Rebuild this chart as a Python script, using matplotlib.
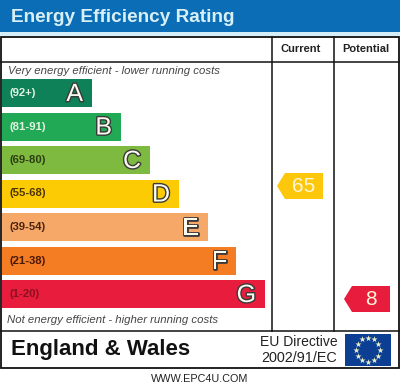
import numpy as np
import matplotlib
matplotlib.use('Agg')
import matplotlib.pyplot as plt
import matplotlib.patheffects as pe
from matplotlib.patches import Polygon, Rectangle

plt.rcParams['font.family'] = ['Liberation Sans', 'DejaVu Sans']

bands = ['(92+)', '(81-91)', '(69-80)', '(55-68)', '(39-54)', '(21-38)', '(1-20)']
letters = ['A', 'B', 'C', 'D', 'E', 'F', 'G']
band_colors = ['#0e8159', '#22a955', '#7fba40', '#fdcb04', '#f6a868', '#f47c22', '#e81c3c']
label_colors = ['#e4f4e4', '#e4f4e4', '#2c3c14', '#4a3408', '#4a2410', '#4a1808', '#8a1020']
band_lengths = [90, 119, 148, 177, 206, 234, 263]

current_score = '65'
potential_score = '8'

fig = plt.figure(figsize=(4, 3.88), dpi=100)
ax = fig.add_axes([0, 0, 1, 1])
ax.set_xlim(0, 400)
ax.set_ylim(388, 0)
ax.axis('off')

# title strip
ax.add_patch(Rectangle((0, 0), 400, 32, color='#0a6db5', lw=0))
ax.add_patch(Rectangle((0, 32), 400, 4, color='#d5eef7', lw=0))
ax.text(11, 17, 'Energy Efficiency Rating', color='#d8f0f5', fontsize=13.7, fontweight='bold', va='center')

# frame
ax.add_patch(Rectangle((1, 37), 398, 331, fill=False, ec='#111111', lw=1.3))
ax.plot([1, 399], [62, 62], color='#111111', lw=1.1)
ax.plot([1, 399], [331, 331], color='#111111', lw=1.1)
ax.plot([272, 272], [37, 331], color='#111111', lw=1.1)
ax.plot([334, 334], [37, 331], color='#111111', lw=1.1)

ax.text(301, 49, 'Current', fontsize=8, fontweight='bold', ha='center', va='center', color='#222222')
ax.text(366, 49, 'Potential', fontsize=8, fontweight='bold', ha='center', va='center', color='#222222')

ax.text(8, 70.5, 'Very energy efficient - lower running costs', fontsize=8.2, style='italic', va='center', color='#444444')
ax.text(7, 320, 'Not energy efficient - higher running costs', fontsize=8.2, style='italic', va='center', color='#444444')

# rating bands
y_pos = 93 + 33.5 * np.arange(len(bands))
ax.barh(y_pos, band_lengths, height=28, left=2, color=band_colors, lw=0)
for i in range(len(bands)):
    ax.text(10, y_pos[i], bands[i], fontsize=8.1, fontweight='bold', va='center', color=label_colors[i])
    t = ax.text(2 + band_lengths[i] - 9, y_pos[i] + 1, letters[i], fontsize=18, ha='right', va='center', color='#fbfbf0')
    t.set_path_effects([pe.Stroke(linewidth=2.0, foreground='#3a3a3a'), pe.Normal()])


def score_arrow(x0, x1, y, color, label):
    tip = x0 - 8
    ax.add_patch(Polygon([(tip, y), (x0, y - 13), (x1, y - 13), (x1, y + 13), (x0, y + 13)], color=color, lw=0))
    ax.text((x0 + x1) / 2 - 0.5, y + 0.5, label, color='#fdf6d8', fontsize=15, ha='center', va='center')


score_arrow(285, 323, 186, '#fdc70c', current_score)
score_arrow(352, 390, 299, '#e81c3c', potential_score)

# footer
ax.text(11, 350, 'England & Wales', fontsize=16, fontweight='bold', va='center', color='#111111')
ax.text(337.5, 342, 'EU Directive', fontsize=10, ha='right', va='center', color='#222222')
ax.text(337.5, 358, '2002/91/EC', fontsize=10.4, ha='right', va='center', color='#222222')

ax.add_patch(Rectangle((345, 334), 46, 32, color='#0c3f94', lw=0))
star_angles = np.arange(12) * 2 * np.pi / 12
ax.scatter(368 + 12 * np.sin(star_angles), 349.5 - 12 * np.cos(star_angles), marker='*', s=22, color='#e8efc8', lw=0, zorder=3)

ax.text(200, 379, 'WWW.EPC4U.COM', fontsize=7.8, ha='center', va='center', color='#222222')

fig.savefig('out.png', dpi=100)
